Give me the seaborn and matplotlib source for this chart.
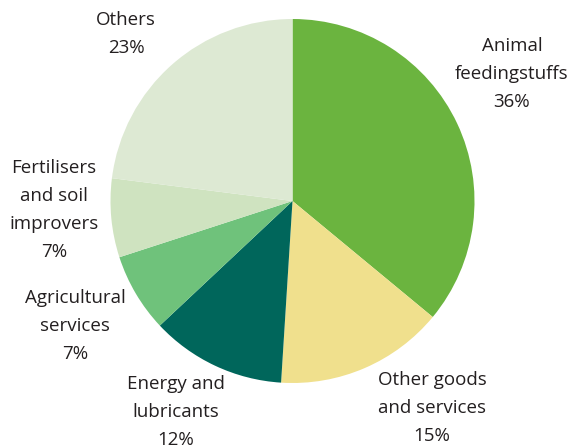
import matplotlib
matplotlib.use("Agg")
import matplotlib.pyplot as plt
import seaborn as sns

categories = ["Animal\nfeedingstuffs", "Other goods\nand services", "Energy and\nlubricants",
              "Agricultural\nservices", "Fertilisers\nand soil\nimprovers", "Others"]
values = [36, 15, 12, 7, 7, 23]
colors = ["#6bb43f", "#f0e08d", "#00665b", "#6fc27b", "#cfe3c0", "#dde9d3"]

# label anchor positions in pixels (x, y from top)
label_px = [(512, 74), (432, 408), (176, 412), (75, 326), (54, 210), (126, 34)]

sns.set_theme(style="white")
plt.rcParams['font.family'] = ['Open Sans', 'DejaVu Sans']

W, H = 571, 448
fig = plt.figure(figsize=(W / 100, H / 100), dpi=100)
ax = fig.add_axes([0, 0, 1, 1])
R = 182.0
cx, cy = 292.5, 201.0
ax.pie(values, colors=colors, startangle=90, counterclock=False, radius=1,
       center=(0, 0), wedgeprops=dict(linewidth=0))
ax.set_xlim(-cx / R, (W - cx) / R)
ax.set_ylim(-(H - cy) / R, cy / R)
ax.set_aspect('auto')
ax.axis('off')

for cat, v, (px, py) in zip(categories, values, label_px):
    ax.text((px - cx) / R, (cy - py) / R, f"{cat}\n{v}%", ha='center', va='center',
            fontsize=13.5, color='#231f20', linespacing=1.72)

fig.savefig("out.png", dpi=100)
